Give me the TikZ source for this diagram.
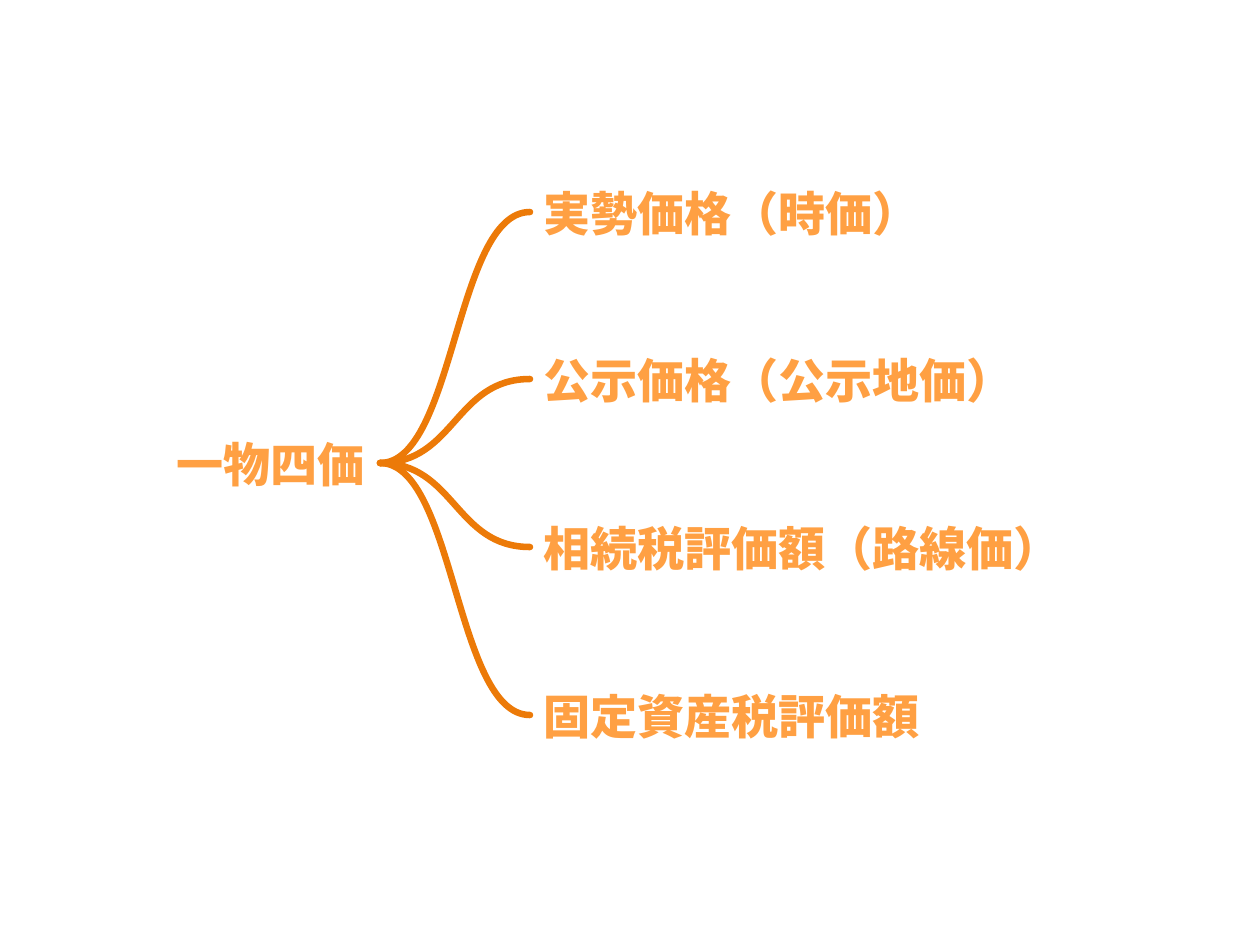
\documentclass[tikz,border=0pt]{standalone}
\usepackage{fontspec}
\newfontfamily\cjk{Noto Sans CJK JP}
\definecolor{txtorange}{HTML}{FFA043}
\definecolor{lineorange}{HTML}{EC7A08}
\tikzset{
  lbl/.style={anchor=west, inner sep=0pt, text=txtorange, font=\cjk\bfseries\fontsize{35.3pt}{37pt}\selectfont},
  branch/.style={draw=lineorange, line width=4.9pt, line cap=round}
}
\begin{document}
\begin{tikzpicture}[x=0.75pt,y=-0.75pt]
\useasboundingbox (0,0) rectangle (1238,928);
\node[lbl] (root) at (176,465) {一物四価};
\coordinate (r) at (380,463);
\node[lbl] (a) at (543,214) {実勢価格（時価）};
\node[lbl] (b) at (543,381) {公示価格（公示地価）};
\node[lbl] (c) at (543,549) {相続税評価額（路線価）};
\node[lbl] (d) at (543,717) {固定資産税評価額};
\coordinate (ea) at (530,212);
\coordinate (eb) at (530,379);
\coordinate (ec) at (530,547);
\coordinate (ed) at (530,715);
\draw[branch] (r) .. controls (455,463) and (455,212) .. (ea);
\draw[branch] (r) .. controls (455,463) and (455,379) .. (eb);
\draw[branch] (r) .. controls (455,463) and (455,547) .. (ec);
\draw[branch] (r) .. controls (455,463) and (455,715) .. (ed);
\end{tikzpicture}
\end{document}
